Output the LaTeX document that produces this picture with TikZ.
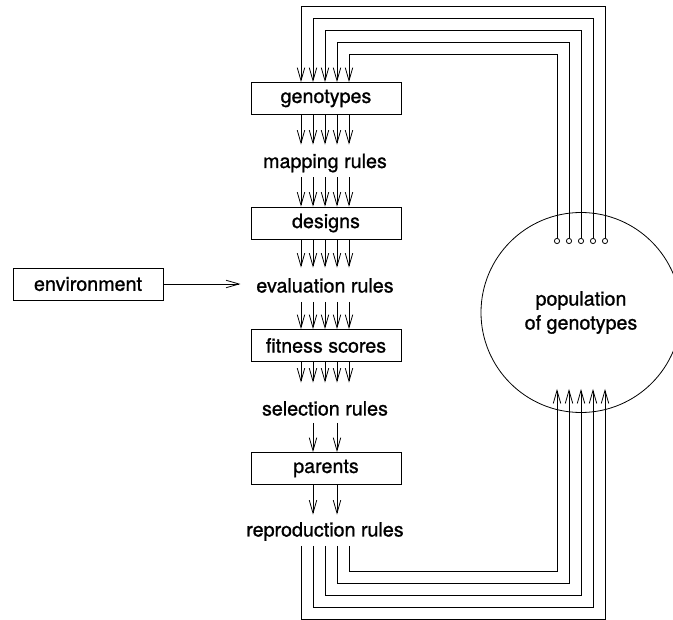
\documentclass[tikz,border=0pt]{standalone}
\usepackage{fontspec}
\setmainfont{TeX Gyre Heros}[FakeBold=1]
\usetikzlibrary{arrows.meta,calc}

\begin{document}
\begin{tikzpicture}[x=1pt,y=-1pt,
  line width=0.8pt,
  >={Straight Barb[length=13pt,width=7.5pt]},
  every node/.style={font=\fontsize{19.7}{24}\selectfont},
  stage/.style={draw, minimum width=150pt, minimum height=32pt, inner sep=0pt},
  rulelabel/.style={inner sep=0pt, text height=14pt, text depth=4pt, anchor=base},
  pool/.style={draw, circle, minimum size=200pt, inner sep=0pt, align=center},
  tapped/.style={{Circle[open,length=6pt,width=6pt]}->}
]
\clip (0,0) rectangle (673,620);

% pipeline stages and the rules between them
\node[stage] (geno) at (326,98.5) {genotypes};
\node[rulelabel] (map) at (325,168) {mapping rules};
\node[stage] (des) at (326,223) {designs};
\node[rulelabel] (eval) at (325,292.5) {evaluation rules};
\node[stage] (fit) at (326,345.5) {fitness scores};
\node[rulelabel] (sel) at (325,415.5) {selection rules};
\node[stage] (par) at (326,468.5) {parents};
\node[rulelabel] (rep) at (325,536.5) {reproduction rules};
\node[stage] (env) at (88,284) {environment};
\node[pool] (pop) at (581,312.5) {population\\of genotypes};

% five parallel channels
\foreach \i in {1,...,5} {
  \coordinate (c\i) at ({289+12*\i},0);
  \coordinate (tap\i) at ({617-12*\i},244);
  \coordinate (in\i) at ({617-12*\i},389);
}

\foreach \i in {1,...,5} {
  \draw[->,shorten >=9pt] (geno.south -| c\i) -- (map.north -| c\i);
  \draw[->,shorten <=5pt] (map.south -| c\i) -- (des.north -| c\i);
  \draw[->,shorten >=10.5pt] (des.south -| c\i) -- (eval.north -| c\i);
  \draw[->,shorten <=5pt] (eval.south -| c\i) -- (fit.north -| c\i);
  \draw[->,shorten >=18.5pt] (fit.south -| c\i) -- (sel.north -| c\i);
  % from the population back to the genotypes
  \draw[tapped] (tap\i) |- ($(c\i)+(0,{12*\i-6})$) -- (geno.north -| c\i);
  % offspring returned to the population
  \draw[->,shorten <=5pt] (rep.south -| c\i) -- ($(c\i)+(0,{631-12*\i})$) -| (in\i);
}

\foreach \i in {2,4} {
  \draw[->,shorten <=3pt] (sel.south -| c\i) -- (par.north -| c\i);
  \draw[->,shorten >=7.5pt] (par.south -| c\i) -- (rep.north -| c\i);
}

\draw[->,shorten >=15.5pt] (env.east) -- (env.east -| eval.west);
\end{tikzpicture}
\end{document}
